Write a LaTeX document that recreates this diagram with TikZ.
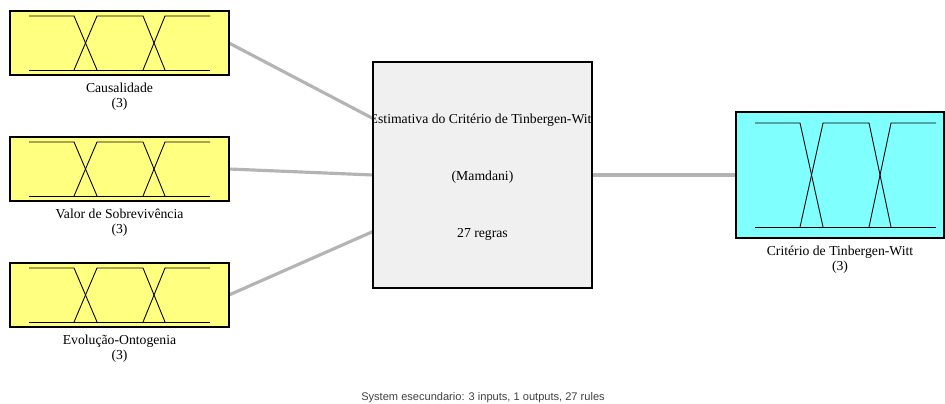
\documentclass[tikz,border=0pt]{standalone}
\usepackage{fontspec}
\setmainfont{Liberation Serif}
\newfontfamily\sysfont{Liberation Sans}
\usetikzlibrary{positioning, calc, backgrounds}
\definecolor{InYellow}{HTML}{FFFF80}
\definecolor{OutCyan}{HTML}{80FFFF}
\definecolor{FisGray}{HTML}{F0F0F0}
\definecolor{WireGray}{HTML}{B4B4B4}
\definecolor{Caption}{HTML}{404040}
\tikzset{
  varbox/.style={rectangle, draw=black, line width=1.6pt, outer sep=0pt,
                 minimum width=4.38cm, minimum height=1.28cm},
  varlabel/.style={align=center, inner sep=1pt},
  mfline/.style={draw=black, line width=0.5pt},
  wire/.style={draw=WireGray, line width=1.8pt}
}
% three trapezoid membership functions inside a box
\newcommand{\threemf}[3]{%
  \begin{scope}[shift={(#1.north west)}]
    \draw[mfline] (19,#3) -- (200,#3);
    \draw[mfline] (19,#2) -- (64,#2) -- (87,#3);
    \draw[mfline] (64,#3) -- (87,#2) -- (133,#2) -- (155,#3);
    \draw[mfline] (133,#3) -- (155,#2) -- (200,#2);
  \end{scope}}

\begin{document}
\begin{tikzpicture}[x=0.02cm, y=-0.02cm, font=\fontsize{7.8}{8.6}\selectfont]
    \useasboundingbox (0,0) rectangle (945,404);

    % Inputs
    \node[varbox, fill=InYellow] (causa) at (119.5,43) {};
    \node[varbox, fill=InYellow] (sobrev) at (119.5,169) {};
    \node[varbox, fill=InYellow] (evol) at (119.5,295) {};
    \threemf{causa}{5}{59}
    \threemf{sobrev}{5}{59}
    \threemf{evol}{5}{59}
    \node[varlabel, below=3.5pt of causa] (causalabel) {Causalidade\\(3)};
    \node[varlabel, below=3.5pt of sobrev] (sobrevlabel) {Valor de Sobrevivência\\(3)};
    \node[varlabel, below=3.5pt of evol] (evollabel) {Evolução-Ontogenia\\(3)};

    % Inference system
    \node[varbox, fill=FisGray, minimum height=4.52cm] (fis) at (482.5,175) {};
    \begin{scope}
        \clip (fis.north west) rectangle (fis.south east);
        \node (fisname) at ($(fis.center)+(0,-55)$) {Estimativa do Critério de Tinbergen-Witt};
    \end{scope}
    \node (fistype) at ($(fis.center)+(0,2)$) {(Mamdani)};
    \node (fisrules) at ($(fis.center)+(0,59)$) {27 regras};

    % Output
    \node[varbox, fill=OutCyan, minimum width=4.16cm, minimum height=2.52cm] (crit) at (840,175) {};
    \threemf{crit}{11}{115}
    \node[varlabel, below=3.5pt of crit] (critlabel) {Critério de Tinbergen-Witt\\(3)};

    % Wires
    \begin{scope}[on background layer]
        \draw[wire] (causa.east) -- ($(fis.north west)!0.25!(fis.south west)$);
        \draw[wire] (sobrev.east) -- (fis.west);
        \draw[wire] (evol.east) -- ($(fis.north west)!0.75!(fis.south west)$);
        \draw[wire] (fis.east) -- (crit.west);
    \end{scope}

    \node[font=\sysfont\fontsize{6.3}{7.5}\selectfont, text=Caption] (sysinfo) at (483,397.5)
        {System esecundario: 3 inputs, 1 outputs, 27 rules};
\end{tikzpicture}
\end{document}
